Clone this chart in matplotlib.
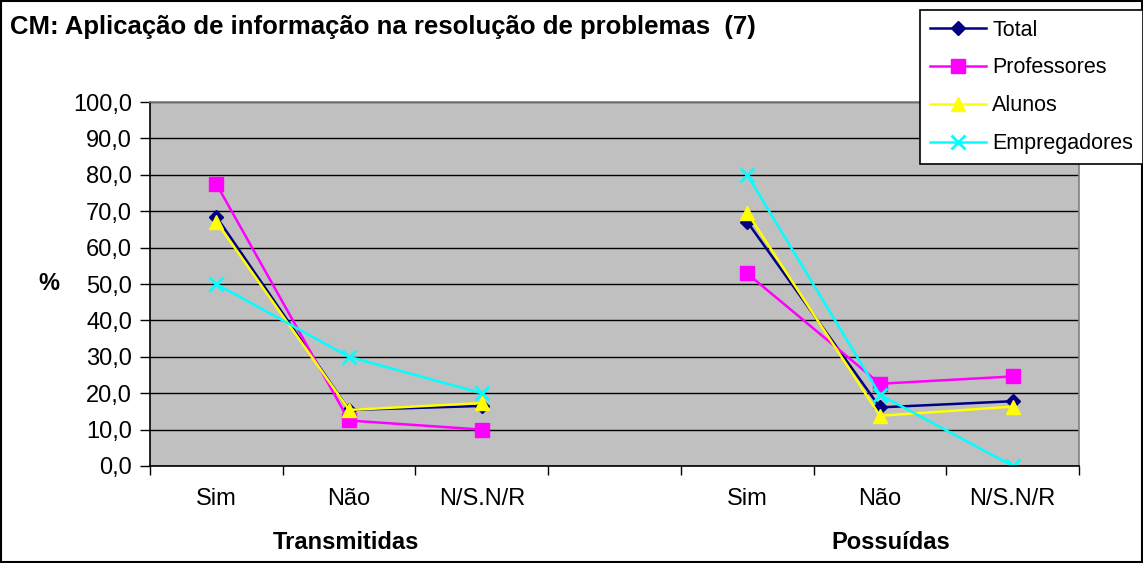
import numpy as np
import matplotlib.pyplot as plt
from matplotlib.patches import Rectangle

plt.rcParams['font.family'] = ['Liberation Sans', 'DejaVu Sans']

categories = ['Sim', 'Não', 'N/S.N/R', '', 'Sim', 'Não', 'N/S.N/R']
groups = ['Transmitidas', 'Possuídas']

total = [68.5, 15.4, 16.5, np.nan, 67.1, 16.1, 17.8]
professores = [77.5, 12.5, 10.0, np.nan, 52.9, 22.6, 24.6]
alunos = [67.1, 15.4, 17.3, np.nan, 69.6, 13.8, 16.3]
empregadores = [50.0, 30.0, 20.0, np.nan, 80.0, 19.6, 0.0]

series = [
    ('Total', total, '#000080', 'D', 7.5),
    ('Professores', professores, '#FF00FF', 's', 10.5),
    ('Alunos', alunos, '#FFFF00', '^', 10),
    ('Empregadores', empregadores, '#00FFFF', 'x', 9.5),
]

fig = plt.figure(figsize=(11.43, 5.63), dpi=100)
ax = fig.add_axes([0.1312, 0.1723, 0.8128, 0.6465])
ax.set_facecolor('#C0C0C0')

x = np.arange(len(categories))
handles = []
for name, vals, col, mk, ms in series:
    vals = np.array(vals, dtype=float)
    # draw each group separately so the empty slot breaks the line
    for seg in (slice(0, 3), slice(4, 7)):
        h, = ax.plot(x[seg], vals[seg], color=col, marker=mk, markersize=ms,
                     linewidth=1.8, markeredgewidth=2 if mk == 'x' else 1,
                     markeredgecolor=col, label=name)
    handles.append(h)

ax.set_xlim(-0.5, 6.5)
ax.set_ylim(0, 100)
ax.set_yticks(np.arange(0, 101, 10))
ax.set_yticklabels([f"{v:.1f}".replace('.', ',') for v in np.arange(0, 101, 10)],
                   fontsize=17)
ax.yaxis.grid(True, color='black', linewidth=1.0)
ax.set_axisbelow(True)

ax.set_xticks(x)
ax.set_xticklabels(categories, fontsize=17)
ax.tick_params(axis='x', which='major', length=0, pad=16)
ax.set_xticks(np.arange(-0.5, 7, 1), minor=True)
ax.tick_params(axis='x', which='minor', length=6.5, width=1, color='black')
ax.tick_params(axis='y', length=7, width=1, color='black', pad=6)

for s in ['left', 'bottom']:
    ax.spines[s].set_color('black')
    ax.spines[s].set_linewidth(1.2)
for s in ['top', 'right']:
    ax.spines[s].set_color('#808080')
    ax.spines[s].set_linewidth(1.2)

group_x = [0.98, 5.08]
for gx, g in zip(group_x, groups):
    ax.text(gx, -0.209, g, transform=ax.get_xaxis_transform(),
            ha='center', va='center', fontsize=17, fontweight='bold')

fig.text(49 / 1143, 1 - 284 / 563, '%', ha='center', va='center',
         fontsize=17, fontweight='bold')
fig.text(10 / 1143, 1 - 27 / 563, 'CM: Aplicação de informação na resolução de problemas  (7)',
         ha='left', va='center', fontsize=18.5, fontweight='bold')

fig.patches.append(Rectangle((0.001, 0.001), 0.998, 0.997, transform=fig.transFigure,
                             fill=False, edgecolor='black', linewidth=1.5))

leg = fig.legend(handles=handles, loc='upper right', bbox_to_anchor=(1.0, 1 - 10 / 563),
                 fontsize=15.5, frameon=True, fancybox=False, edgecolor='black',
                 handlelength=2.6, handletextpad=0.3, labelspacing=0.78,
                 borderpad=0.45, borderaxespad=0.0)
leg.get_frame().set_linewidth(1.2)
leg.get_frame().set_facecolor('white')
leg.get_frame().set_alpha(1)

fig.savefig('out.png', dpi=100)
